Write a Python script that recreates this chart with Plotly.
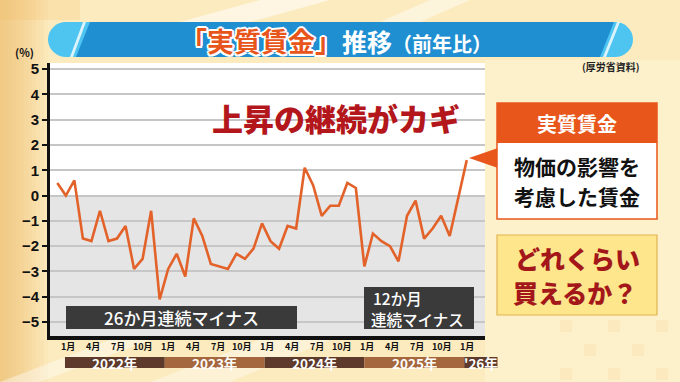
import plotly.graph_objects as go

# ---------------- data ----------------
months_idx = list(range(49))  # Jan 2022 .. Jan 2026
real_wage = [0.5, 0.0, 0.6, -1.7, -1.8, -0.6, -1.8, -1.7, -1.2, -2.9, -2.5, -0.6,
             -4.1, -2.9, -2.3, -3.2, -0.9, -1.6, -2.7, -2.8, -2.9, -2.3, -2.5, -2.1,
             -1.1, -1.8, -2.1, -1.2, -1.3, 1.1, 0.4, -0.8, -0.4, -0.4, 0.5, 0.3,
             -2.8, -1.5, -1.8, -2.0, -2.6, -0.8, -0.2, -1.7, -1.3, -0.8, -1.6, -0.1,
             1.4]
y_tickvals = [5, 4, 3, 2, 1, 0, -1, -2, -3, -4, -5]
y_ticktext = ["5", "4", "3", "2", "1", "0", "\u22121", "\u22122", "\u22123", "\u22124", "\u22125"]
month_label_pos = [0, 3, 6, 9, 12, 15, 18, 21, 24, 27, 30, 33, 36, 39, 42, 45, 48]
month_labels = ["1月", "4月", "7月", "10月"] * 4 + ["1月"]
year_labels = ["2022年", "2023年", "2024年", "2025年", "'26年"]
year_months = [12, 12, 12, 12, 4]

# ---------------- geometry ----------------
W, H = 680, 382
L, R, T, B = 50, 195, 63, 46
PW, PH = W - L - R, H - T - B
XR = [-0.856, 50.14]
YR = [-5.55, 5.24]

def X(px):
    return (px - L) / PW

def Y(py):
    return (H - B - py) / PH

def dx(xd):
    return (xd - XR[0]) / (XR[1] - XR[0])

JP = "Noto Sans CJK JP"
shapes = []
ann = []

def rect(x0, y0, x1, y1, fill, line=None, lw=0, layer="above", opacity=1):
    shapes.append(dict(type="rect", xref="paper", yref="paper",
                       x0=X(x0), x1=X(x1), y0=Y(y1), y1=Y(y0),
                       fillcolor=fill, opacity=opacity, layer=layer,
                       line=dict(color=line or fill, width=lw)))

def poly(pts, fill, layer="below", opacity=1, line_w=0, line_c=None):
    d = "M " + " L ".join(f"{X(a):.5f},{Y(b):.5f}" for a, b in pts) + " Z"
    shapes.append(dict(type="path", xref="paper", yref="paper", path=d,
                       fillcolor=fill, opacity=opacity, layer=layer,
                       line=dict(color=line_c or fill, width=line_w)))

def text(s, x, y, size, color, xa="center", ya="middle", weight="bold", family=JP, shadow=None):
    f = dict(family=family, size=size, color=color, weight=weight)
    if shadow:
        f["shadow"] = shadow
    ann.append(dict(text=s, x=X(x), y=Y(y), xref="paper", yref="paper", showarrow=False,
                    xanchor=xa, yanchor=ya, font=f))

# ---------------- background ----------------
for w in range(4, 52, 4):
    rect(0, 0, w, H, "#f3b85f", layer="below", opacity=0.07)
rect(0, 0, 80, 20, "#f3b85f", layer="below", opacity=0.2)
rect(485, 60, W, H, "#fdf3d2", layer="below", opacity=0.7)
poly([(260, 0), (330, 0), (250, 22), (180, 22)], "#ffffff", opacity=0.55)
poly([(430, 0), (470, 0), (420, 22), (380, 22)], "#ffffff", opacity=0.45)
poly([(0, 382), (40, 382), (150, 340), (110, 340)], "#ffffff", opacity=0.4)
poly([(150, 382), (230, 382), (330, 340), (260, 340)], "#ffffff", opacity=0.35)
# faint checker bottom-right
for cx in range(560, 680, 24):
    for cy in range(320, 382, 24):
        if ((cx - 560) // 24 + (cy - 320) // 24) % 2 == 0:
            rect(cx, cy, cx + 12, cy + 12, "#f6c070", layer="below", opacity=0.15)

# ---------------- title bar ----------------
rect(66, 22, 614, 57, "#4ec4f1")
shapes.append(dict(type="circle", xref="paper", yref="paper", x0=X(48), x1=X(84), y0=Y(57), y1=Y(22),
                   fillcolor="#4ec4f1", line=dict(width=0)))
shapes.append(dict(type="circle", xref="paper", yref="paper", x0=X(597), x1=X(633), y0=Y(57), y1=Y(22),
                   fillcolor="#4ec4f1", line=dict(width=0)))
poly([(76, 57), (90, 22), (614, 22), (600, 57)], "#1f8fd2", layer="above")
poly([(70, 57), (83, 22), (86, 22), (73, 57)], "#ffffff", layer="above", opacity=0.8)
poly([(603, 57), (617, 22), (620, 22), (606, 57)], "#ffffff", layer="above", opacity=0.8)
outline = ("-1.5px -1.5px 0 #fff, 1.5px -1.5px 0 #fff, -1.5px 1.5px 0 #fff, 1.5px 1.5px 0 #fff, "
           "0 2px 0 #fff, 2px 0 0 #fff, -2px 0 0 #fff, 0 -2px 0 #fff")
title_html = ("<span style='color:#e8551b;text-shadow:" + outline + "'>「実質賃金」</span>"
              "<span style='font-size:25px'>推移</span>"
              "<span style='font-size:20px'>（前年比）</span>")
text(title_html, 178, 40, 27, "#ffffff", xa="left")

text("(%)", 24, 52, 11, "#111111")
text("(厚労省資料)", 611, 67, 10, "#222222")

# ---------------- plot panel ----------------
shapes.append(dict(type="rect", xref="paper", yref="y", x0=0, x1=1, y0=YR[0], y1=0,
                   fillcolor="#e5e5e5", line=dict(width=0), layer="below"))

# year bars
start = 0.9
for i, (lab, n) in enumerate(zip(year_labels, year_months)):
    w = n * 11.7 / 12
    x0p, x1p = dx(start), dx(start + w)
    col = "#5d3a2b" if i % 2 == 0 else "#a5673d"
    shapes.append(dict(type="rect", xref="paper", yref="paper", x0=x0p, x1=x1p,
                       y0=Y(368), y1=Y(357), fillcolor=col, line=dict(width=0)))
    ann.append(dict(text=lab, x=(x0p + x1p) / 2, y=Y(362.5), xref="paper", yref="paper",
                    showarrow=False, xanchor="center", yanchor="middle",
                    font=dict(family=JP, size=13.5, color="#ffffff", weight="bold")))
    start += w

# month labels (offset from data grid as in graphic)
for m, lab in zip(month_label_pos, month_labels):
    xm = 1.27 + 0.973 * m
    ann.append(dict(text=lab, x=dx(xm), y=Y(346), xref="paper", yref="paper", showarrow=False,
                    xanchor="center", yanchor="middle",
                    font=dict(family=JP, size=9, color="#111111", weight="bold")))

# boxes inside plot
rect(66, 306, 297, 329, "#3a3a3a")
text("26か月連続マイナス", 181, 317.5, 17, "#ffffff", weight=500)
rect(364, 287, 474, 329, "#3a3a3a")
text("12か月", 371, 297.5, 15.5, "#ffffff", xa="left", weight=500)
text("連続マイナス", 369, 318.5, 15.5, "#ffffff", xa="left", weight=500)

text("上昇の継続がカギ", 336, 118, 31, "#b3161b", weight=900)

# right panel
poly([(469, 158), (498, 148), (498, 168)], "#e8561b", layer="above")
rect(497, 103, 657, 219, "#ffffff", line="#e8561b", lw=1.5)
rect(497, 103, 657, 143, "#e8561b")
text("実質賃金", 577, 123, 20, "#ffffff")
text("物価の影響を", 577, 166, 21, "#111111")
text("考慮した賃金", 577, 196, 21, "#111111")

rect(497, 235, 657, 315, "#fde68c", line="#e2b451", lw=1.2)
text("どれくらい", 577, 258, 25, "#a3171a", weight=900)
text("買えるか？", 575, 292, 25, "#a3171a", weight=900)

# ---------------- figure ----------------
fig = go.Figure()
fig.add_trace(go.Scatter(x=months_idx, y=real_wage, mode="lines",
                         line=dict(color="#e2622a", width=2.6), hoverinfo="skip"))

fig.update_layout(
    width=W, height=H, margin=dict(l=L, r=R, t=T, b=B),
    paper_bgcolor="#fcebbf", plot_bgcolor="#ffffff",
    showlegend=False, shapes=shapes, annotations=ann,
    xaxis=dict(range=XR, showgrid=False, zeroline=False, showticklabels=False, ticks="",
               showline=True, linecolor="#111111", linewidth=4, fixedrange=True),
    yaxis=dict(range=YR, tickvals=y_tickvals, ticktext=y_ticktext, showgrid=True,
               gridcolor="#c6c6c6", gridwidth=1.5, zeroline=False,
               showline=True, linecolor="#111111", linewidth=3,
               ticks="outside", ticklen=5, tickwidth=2, tickcolor="#111111",
               tickfont=dict(family="Liberation Sans", size=15, color="#111111", weight="bold"),
               fixedrange=True),
)
fig.write_html("out.html", config={"displayModeBar": False},
               post_script="document.body.style.margin='0px';document.body.style.overflow='hidden';")
